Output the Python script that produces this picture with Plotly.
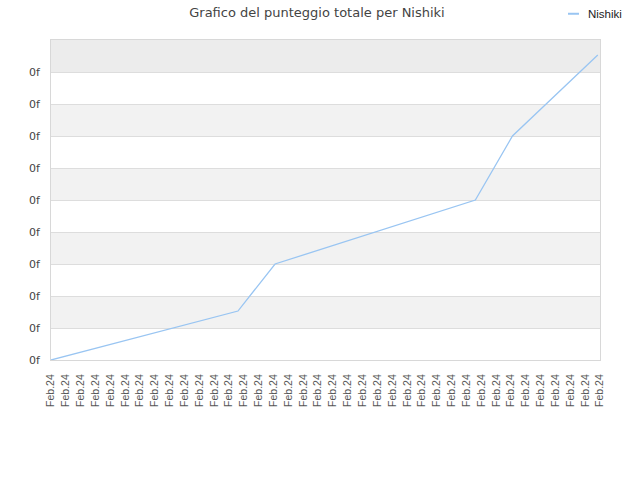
import plotly.graph_objects as go

# data
tick_positions = list(range(38))
tick_labels = ["Feb.24"] * 38
x_points = [0, 12.6, 15.1, 28.6, 31.1, 36.85]
y_points = [0, 1.53, 3.0, 5.0, 7.0, 9.53]
y_ticks = list(range(10))
y_tick_labels = ["0f"] * 10
series_name = "Nishiki"
line_color = "#99c5f2"

fig = go.Figure()
fig.add_trace(go.Scatter(
    x=x_points, y=y_points, mode="lines", name=series_name,
    line=dict(color=line_color, width=1.3), showlegend=False,
))

# alternating plot bands
shapes = []
for lo in (1, 3, 5, 7):
    shapes.append(dict(type="rect", xref="paper", yref="y", x0=0, x1=1, y0=lo, y1=lo + 1,
                       fillcolor="#f2f2f2", line=dict(width=0), layer="below"))
shapes.append(dict(type="rect", xref="paper", yref="y", x0=0, x1=1, y0=9, y1=10,
                   fillcolor="#ececec", line=dict(width=0), layer="below"))

# small legend in the top right corner
shapes.append(dict(type="line", xref="paper", yref="paper", x0=0.9417, x1=0.9617,
                   y0=1.082, y1=1.082, line=dict(color=line_color, width=2)))
legend_note = dict(text=series_name, xref="paper", yref="paper", x=0.975, y=1.082,
                   xanchor="left", yanchor="middle", showarrow=False,
                   font=dict(family="Liberation Sans", size=11.5, color="#222222"))

fig.update_layout(
    width=640, height=480,
    margin=dict(l=51, r=40, t=40, b=120, autoexpand=False),
    paper_bgcolor="white", plot_bgcolor="white",
    font=dict(family="DejaVu Sans", size=11, color="#444444"),
    title=dict(text="Grafico del punteggio totale per Nishiki", xref="paper", x=0.4845,
               xanchor="center", y=0.975, yanchor="middle",
               font=dict(size=13, color="#444444")),
    showlegend=False,
    shapes=shapes,
    annotations=[legend_note],
    xaxis=dict(range=[0, 37], tickvals=tick_positions, ticktext=tick_labels, tickangle=-90,
               showgrid=False, zeroline=False, showline=True, mirror=True,
               linecolor="#d8d8d8", ticks="", ticklabelstandoff=9,
               tickfont=dict(family="Liberation Sans", size=10.5, color="#555555")),
    yaxis=dict(range=[0, 10], tickvals=y_ticks, ticktext=y_tick_labels,
               showgrid=True, gridcolor="#dddddd", zeroline=False, showline=True, mirror=True,
               linecolor="#d8d8d8", ticks="", ticklabelstandoff=8,
               tickfont=dict(size=11, color="#444444")),
)

fig.write_html("out.html", config={"displayModeBar": False},
               post_script="document.body.style.margin='0';")
